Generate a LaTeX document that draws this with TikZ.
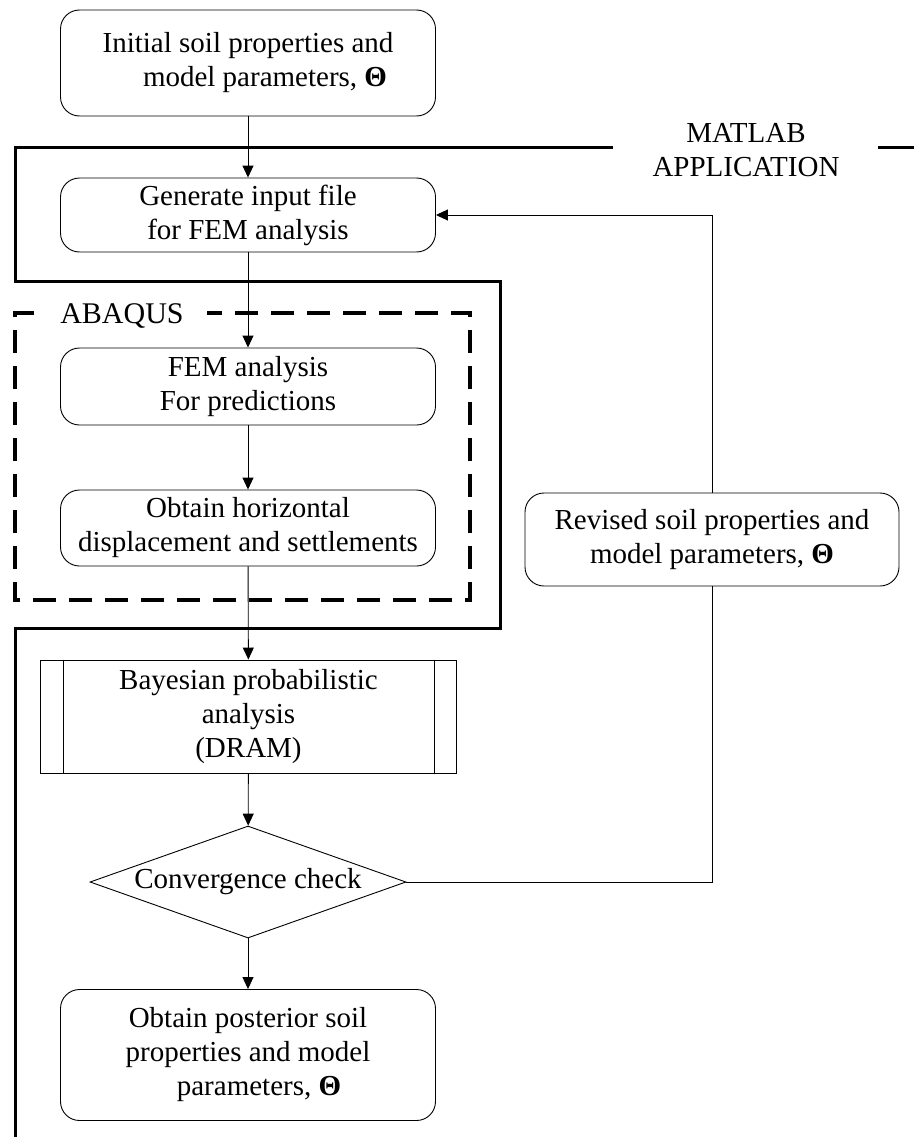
\documentclass[tikz,border=0pt]{standalone}
\usepackage{fontspec}
\setmainfont{Liberation Serif}
\usetikzlibrary{shapes.geometric,arrows.meta}
\begin{document}
\begin{tikzpicture}[x=1pt,y=-1pt,
  txt/.style={font=\fontsize{29}{34}\selectfont},
  rbox/.style={txt, draw, rounded corners=19pt, line width=0.9pt, align=center, inner sep=0pt},
  sbox/.style={txt, draw, line width=0.9pt, align=center, inner sep=0pt},
  dbox/.style={txt, draw, diamond, line width=0.9pt, inner sep=-4pt, aspect=2.82, minimum width=316pt, minimum height=112pt},
  conn/.style={line width=0.9pt},
  arr/.style={conn, -{Triangle[length=12pt,width=11pt]}},
  regionline/.style={line width=3pt},
  abaqusline/.style={line width=4pt, dash pattern=on 23pt off 13pt}]
\useasboundingbox (0,0) rectangle (914,1137);
\fill[white] (0,0) rectangle (914,1137);

% MATLAB region boundary
\draw[regionline] (613,147) -- (15,147) -- (15,281) -- (500,281) -- (500,628) -- (15,628) -- (15,1137);
\draw[regionline] (878,147) -- (914,147);
\node[txt, align=center] (matlab) at (746,150) {MATLAB\\APPLICATION};

% ABAQUS region boundary
\draw[abaqusline] (34,313) -- (15,313) -- (15,600) -- (470,600) -- (470,313) -- (207,313);
\node[font=\fontsize{30}{34}\selectfont, anchor=base] (abaqus) at (122,323) {ABAQUS};

% nodes
\node[rbox, minimum width=375pt, minimum height=106pt] (init) at (248,63)
  {Initial soil properties and\\\hspace*{34pt}model parameters, \textbf{Θ}};
\node[rbox, minimum width=375pt, minimum height=74pt] (gen) at (248,215)
  {Generate input file\\for FEM analysis};
\node[rbox, minimum width=375pt, minimum height=77pt] (fem) at (248,386.5)
  {FEM analysis\\For predictions};
\node[rbox, minimum width=375pt, minimum height=76pt] (obt) at (248,528)
  {Obtain horizontal\\displacement and settlements};
\node[sbox, minimum width=416pt, minimum height=113pt] (bay) at (248.5,716.5)
  {Bayesian probabilistic\\analysis\\(DRAM)};
\draw[conn] ([xshift=23pt]bay.north west) -- ([xshift=23pt]bay.south west);
\draw[conn] ([xshift=-23pt]bay.north east) -- ([xshift=-23pt]bay.south east);
\node[dbox] (conv) at (248,882) {Convergence check};
\node[rbox, minimum width=375pt, minimum height=131pt] (post) at (248,1055)
  {Obtain posterior soil\\properties and model\\\hspace*{22pt}parameters, \textbf{Θ}};
\node[rbox, minimum width=374pt, minimum height=93pt] (rev) at (712,539.5)
  {Revised soil properties and\\model parameters, \textbf{Θ}};

% connectors
\draw[arr] (init) -- (gen);
\draw[arr] (gen) -- (fem);
\draw[arr] (fem) -- (obt);
\draw[arr] (obt) -- (bay);
\draw[arr] (bay) -- (conv);
\draw[arr] (conv) -- (post);
\draw[conn] (conv.east) -| (rev.south);
\draw[arr] (rev.north) |- (gen.east);
\end{tikzpicture}
\end{document}
